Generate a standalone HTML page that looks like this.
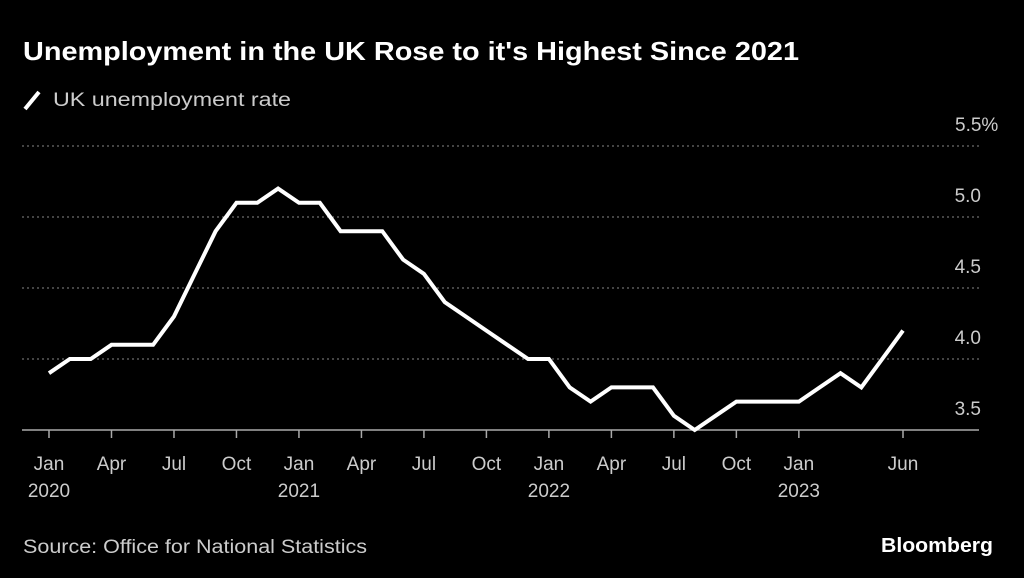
<!DOCTYPE html>
<html><head><meta charset="utf-8"><style>
html,body{margin:0;padding:0;background:#000;}
svg{display:block;font-family:"Liberation Sans",sans-serif;}
</style></head><body>
<svg width="1024" height="578" viewBox="0 0 1024 578">
<rect width="1024" height="578" fill="#000"/>
<text x="23" y="60" fill="#fff" font-size="26" font-weight="bold" textLength="776" lengthAdjust="spacingAndGlyphs">Unemployment in the UK Rose to it's Highest Since 2021</text>
<g>
<line x1="25" y1="109" x2="39" y2="92" stroke="#fff" stroke-width="4"/>
<text x="53" y="106" fill="#ccc" font-size="19" textLength="238" lengthAdjust="spacingAndGlyphs">UK unemployment rate</text>
</g>
<g id="grid"></g><g id="yl"></g><g id="xa"></g>
<path id="line" fill="none" stroke="#fff" stroke-width="4" stroke-linejoin="miter"/>
<text x="23" y="553" fill="#ccc" font-size="19" textLength="344" lengthAdjust="spacingAndGlyphs">Source: Office for National Statistics</text>
<text x="993" y="552" fill="#fff" font-size="20" font-weight="bold" text-anchor="end" textLength="112" lengthAdjust="spacingAndGlyphs">Bloomberg</text>
</svg>
<script>
const values = [3.9,4.0,4.0,4.1,4.1,4.1,4.3,4.6,4.9,5.1,5.1,5.2,5.1,5.1,4.9,4.9,4.9,4.7,4.6,4.4,4.3,4.2,4.1,4.0,4.0,3.8,3.7,3.8,3.8,3.8,3.6,3.5,3.6,3.7,3.7,3.7,3.7,3.8,3.9,3.8,4.0,4.2];
const yTicks = [3.5,4.0,4.5,5.0,5.5];
const yTickLabels = ["3.5","4.0","4.5","5.0","5.5%"];
const xTickMonths = [0,3,6,9,12,15,18,21,24,27,30,33,36,41];
const xTickLabels = ["Jan","Apr","Jul","Oct","Jan","Apr","Jul","Oct","Jan","Apr","Jul","Oct","Jan","Jun"];
const xYearLabels = {0:"2020",12:"2021",24:"2022",36:"2023"};

const NS="http://www.w3.org/2000/svg";
const x = m => 49 + m*(903-49)/41;
const y = v => 430 - (v-3.5)*142;
function mk(tag, attrs, parent){const e=document.createElementNS(NS,tag);for(const k in attrs)e.setAttribute(k,attrs[k]);parent.appendChild(e);return e;}
const grid=document.getElementById('grid'), yl=document.getElementById('yl'), xa=document.getElementById('xa');
yTicks.forEach((t,i)=>{
  if(t>3.5){
    const g=mk('line',{x1:22,x2:979,y1:y(t),y2:y(t),stroke:'#888','stroke-width':1,'stroke-dasharray':'2,3'},grid);
    
    
  }
  const tx=mk('text',{x:i===4?955:981,y:y(t)-15,fill:'#ccc','font-size':19,'text-anchor':i===4?'start':'end'},yl);
  tx.textContent=yTickLabels[i];
  
  
});
const base=mk('line',{x1:22,x2:979,y1:430,y2:430,stroke:'#aaa','stroke-width':1.5},xa);


xTickMonths.forEach((m,i)=>{
  const tk=mk('line',{x1:x(m),x2:x(m),y1:430,y2:438,stroke:'#aaa','stroke-width':1.5},xa);
  
  
  const t=mk('text',{x:x(m),y:470,fill:'#ccc','font-size':19,'text-anchor':'middle'},xa);
  t.textContent=xTickLabels[i];
  
  
  if(xYearLabels[m]){
    const yr=mk('text',{x:x(m),y:497,fill:'#ccc','font-size':19,'text-anchor':'middle'},xa);
    yr.textContent=xYearLabels[m];
    
    
  }
});
document.getElementById('line').setAttribute('d',values.map((v,i)=>(i?'L':'M')+x(i).toFixed(1)+','+y(v).toFixed(1)).join(''));
</script>
</body></html>
